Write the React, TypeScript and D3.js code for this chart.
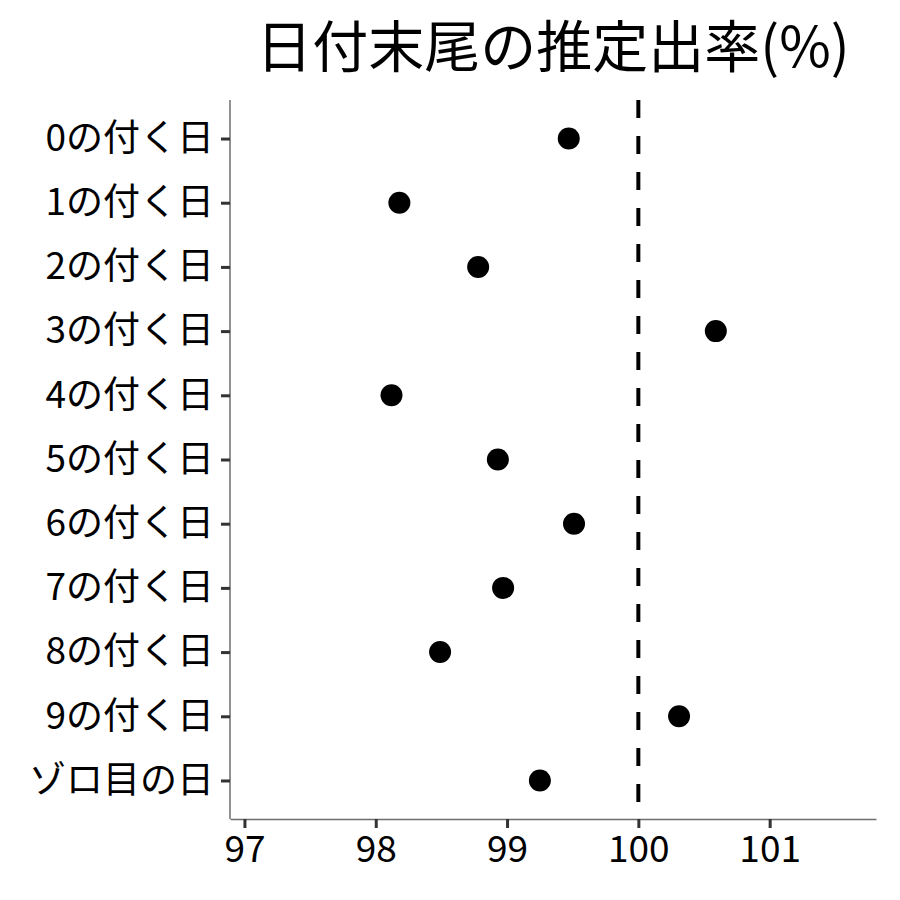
import React, { useEffect, useRef } from "react";
import * as d3 from "d3";

const categories = [
  "0の付く日", "1の付く日", "2の付く日", "3の付く日", "4の付く日", "5の付く日",
  "6の付く日", "7の付く日", "8の付く日", "9の付く日", "ゾロ目の日",
];
const rates = [99.47, 98.18, 98.78, 100.59, 98.12, 98.93, 99.51, 98.97, 98.49, 100.31, 99.25];
const xTicks = [97, 98, 99, 100, 101];
const refValue = 100;
const title = "日付末尾の推定出率(%)";

const App = () => {
  const ref = useRef<SVGSVGElement>(null);

  const width = 900;
  const height = 900;
  const margin = { top: 100, right: 24, bottom: 81, left: 230 };
  const font = "'Noto Sans CJK JP', 'Noto Sans', sans-serif";

  useEffect(() => {
    const svg = d3.select(ref.current);
    svg.selectAll("*").remove();

    const x = d3.scaleLinear()
      .domain([96.89, 101.81])
      .range([margin.left, width - margin.right]);

    const y = d3.scalePoint<string>()
      .domain(categories)
      .range([margin.top, height - margin.bottom])
      .padding(0.6);

    svg.append("text")
      .attr("x", (margin.left + width - margin.right) / 2)
      .attr("y", 67)
      .attr("text-anchor", "middle")
      .style("font-family", font)
      .style("font-size", "56px")
      .text(title);

    // reference line
    svg.append("line")
      .attr("x1", x(refValue))
      .attr("x2", x(refValue))
      .attr("y1", margin.top)
      .attr("y2", height - margin.bottom)
      .attr("stroke", "black")
      .attr("stroke-width", 4)
      .attr("stroke-dasharray", "18,18");

    svg.selectAll("circle")
      .data(rates)
      .enter()
      .append("circle")
      .attr("cx", (d) => x(d))
      .attr("cy", (d, i) => y(categories[i]) as number)
      .attr("r", 11)
      .attr("fill", "black");

    const xAxis = svg.append("g")
      .attr("transform", `translate(0,${height - margin.bottom})`)
      .call(d3.axisBottom(x).tickValues(xTicks).tickSize(9).tickSizeOuter(0).tickPadding(8).tickFormat(d3.format("d")));
    xAxis.select(".domain").attr("stroke", "#6e6e6e").attr("stroke-width", 1.5);
    xAxis.selectAll(".tick line").attr("stroke", "#333").attr("stroke-width", 3);
    xAxis.selectAll(".tick text")
      .attr("fill", "black")
      .style("font-family", font)
      .style("font-size", "37px");

    const yAxis = svg.append("g")
      .attr("transform", `translate(${margin.left},0)`)
      .call(d3.axisLeft(y).tickSize(9).tickSizeOuter(0).tickPadding(7));
    yAxis.select(".domain").attr("stroke", "#6e6e6e").attr("stroke-width", 1.5)
      .attr("d", `M0,${margin.top}V${height - margin.bottom}`);
    yAxis.selectAll(".tick line").attr("stroke", "#333").attr("stroke-width", 3);
    yAxis.selectAll(".tick text")
      .attr("fill", "black")
      .style("font-family", font)
      .style("font-size", "37px");
  }, []);

  return (
    <svg
      ref={ref}
      width={width}
      height={height}
      style={{ position: "absolute", left: 0, top: 0, background: "white" }}
    />
  );
};

export default App;
